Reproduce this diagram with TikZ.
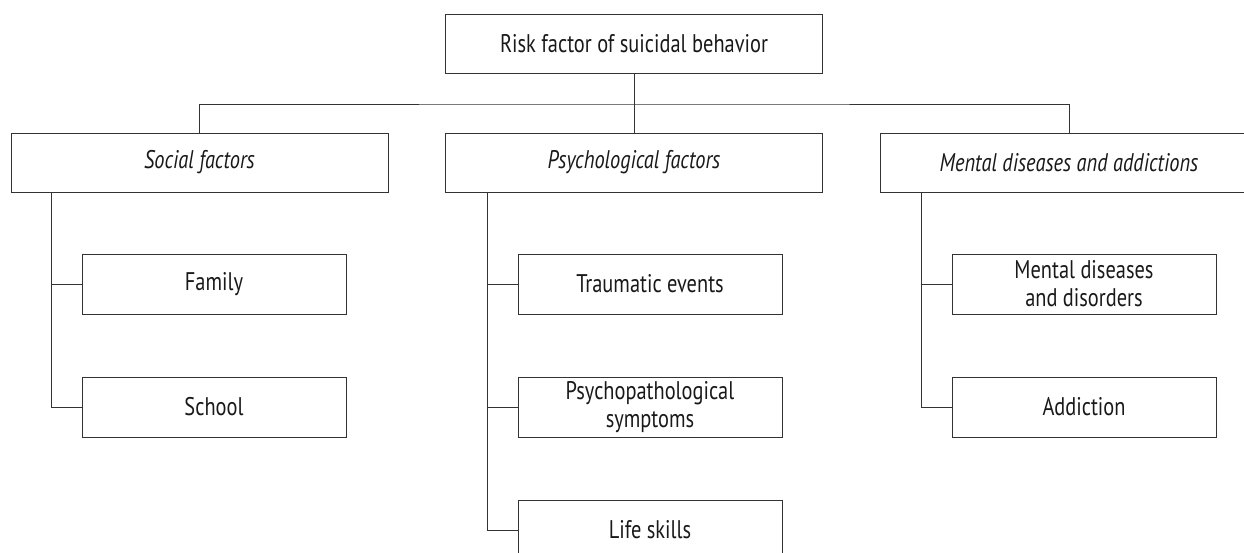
\documentclass[tikz,border=0pt]{standalone}
\usepackage{fontspec}
\setmainfont{PT Sans}[FakeStretch=0.8]
\usepackage{tikz}
\usetikzlibrary{positioning}

\begin{document}
\begin{tikzpicture}[
  x=1pt, y=-1pt,
  node distance=62pt,
  box/.style={draw=black!80, line width=1pt, align=center, minimum width=264pt, minimum height=60pt, inner sep=2pt, font=\fontsize{25.5}{28}\selectfont, text=black!90},
  group/.style={box, minimum width=377pt, minimum height=59pt, font=\fontsize{25.5}{28}\selectfont\itshape},
  line/.style={draw=black!80, line width=1pt}
]
\useasboundingbox (0,0) rectangle (1244,552);
\clip (0,0) rectangle (1244,552);
\node[group, font=\fontsize{25.5}{28}\selectfont] (root) at (634,43.5) {Risk factor of suicidal behavior};
\node[group] (social) at (199.5,162.5) {Social factors};
\node[group] (psych) at (634,162.5) {Psychological factors};
\node[group] (mental) at (1069,162.5) {Mental diseases and addictions};
\node[box] (family) at (214,284) {Family};
\node[box, below=of family] (school) {School};
\node[box] (trauma) at (650,284) {Traumatic events};
\node[box, below=of trauma] (symptoms) {Psychopathological\\symptoms};
\node[box, below=of symptoms] (skills) {Life skills};
\node[box] (disorders) at (1084,284) {Mental diseases\\and disorders};
\node[box, below=of disorders] (addiction) {Addiction};
\coordinate (bus) at (634,104);
\coordinate (spineS) at ([xshift=41pt]social.south west);
\coordinate (spineP) at ([xshift=42pt]psych.south west);
\coordinate (spineM) at ([xshift=41pt]mental.south west);
% tree
\draw[line] (root.south) -- (psych.north);
\draw[line] (social.north) |- (bus) -| (mental.north);
\draw[line] (spineS) |- (school.west);
\draw[line] (family.west) -- (family.west -| spineS);
\draw[line] (spineP) |- (skills.west);
\draw[line] (trauma.west) -- (trauma.west -| spineP);
\draw[line] (symptoms.west) -- (symptoms.west -| spineP);
\draw[line] (spineM) |- (addiction.west);
\draw[line] (disorders.west) -- (disorders.west -| spineM);
\end{tikzpicture}
\end{document}
